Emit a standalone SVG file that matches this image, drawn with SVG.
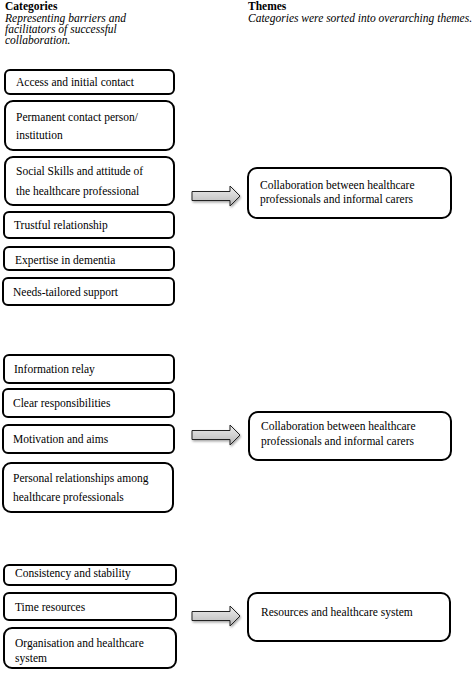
<svg xmlns="http://www.w3.org/2000/svg" width="472" height="678" viewBox="0 0 472 678">
<style>
text{font-family:"Liberation Serif","Times New Roman",serif;font-size:11.5px;fill:#000}
.h{font-weight:bold}
.i{font-style:italic}
.box{fill:#fff;stroke:#000;stroke-width:2}
.arr{fill:url(#g);stroke:#222;stroke-width:1;filter:url(#sh)}
</style>
<defs>
<linearGradient id="g" x1="0" y1="0" x2="0" y2="1">
<stop offset="0" stop-color="#eeeeee"/>
<stop offset="1" stop-color="#b8b8b8"/>
</linearGradient>
<filter id="sh" x="-20%" y="-20%" width="140%" height="160%">
<feDropShadow dx="1" dy="1.5" stdDeviation="1" flood-color="#000" flood-opacity="0.35"/>
</filter>
</defs>
<g id="headers">
<text class="h" x="5" y="10">Categories</text>
<text class="i" x="5" y="22">Representing barriers and</text>
<text class="i" x="5" y="33">facilitators of successful</text>
<text class="i" x="5" y="44">collaboration.</text>
<text class="h" x="248" y="10">Themes</text>
<text class="i" x="248" y="22">Categories were sorted into overarching themes.</text>
</g>
<g id="c1"><rect class="box" x="5" y="70" width="169" height="24" rx="5"/><text x="16" y="86">Access and initial contact</text></g>
<g id="c2"><rect class="box" x="5" y="101" width="169" height="49" rx="8"/><text x="16" y="121">Permanent contact person/</text><text x="16" y="139">institution</text></g>
<g id="c3"><rect class="box" x="5" y="157" width="169" height="48" rx="8"/><text x="16" y="175">Social Skills and attitude of</text><text x="16" y="195">the healthcare professional</text></g>
<g id="c4"><rect class="box" x="4" y="212" width="170" height="26" rx="5"/><text x="14" y="229">Trustful relationship</text></g>
<g id="c5"><rect class="box" x="4" y="247" width="170" height="23" rx="5"/><text x="15" y="264">Expertise in dementia</text></g>
<g id="c6"><rect class="box" x="3" y="278" width="171" height="27" rx="5"/><text x="13" y="296">Needs-tailored support</text></g>
<g id="t1"><rect class="box" x="248" y="168" width="203" height="50" rx="9"/><text x="260" y="189">Collaboration between healthcare</text><text x="260" y="203">professionals and informal carers</text></g>
<g id="c7"><rect class="box" x="4" y="355" width="170" height="28" rx="5"/><text x="14" y="373">Information relay</text></g>
<g id="c8"><rect class="box" x="3" y="389" width="171" height="28" rx="5"/><text x="13" y="407">Clear responsibilities</text></g>
<g id="c9"><rect class="box" x="3" y="425" width="171" height="28" rx="5"/><text x="13" y="443">Motivation and aims</text></g>
<g id="c10"><rect class="box" x="3" y="463" width="170" height="49" rx="8"/><text x="13" y="482">Personal relationships among</text><text x="13" y="501">healthcare professionals</text></g>
<g id="t2"><rect class="box" x="249" y="412" width="202" height="48" rx="9"/><text x="261" y="430">Collaboration between healthcare</text><text x="261" y="445">professionals and informal carers</text></g>
<g id="c11"><rect class="box" x="4" y="565" width="172" height="20" rx="5"/><text x="15" y="577">Consistency and stability</text></g>
<g id="c12"><rect class="box" x="4" y="593" width="172" height="27" rx="5"/><text x="15" y="611">Time resources</text></g>
<g id="c13"><rect class="box" x="4" y="628" width="172" height="40" rx="8"/><text x="15" y="647">Organisation and healthcare</text><text x="15" y="662">system</text></g>
<g id="t3"><rect class="box" x="248" y="593" width="202" height="48" rx="9"/><text x="261" y="616">Resources and healthcare system</text></g>
<g id="connectors">
<path class="arr" d="M192,191.5 H230 V186 L240,196 L230,206 V200.5 H192 Z"/>
<path class="arr" d="M192,430.5 H230 V425 L240,435 L230,445 V439.5 H192 Z"/>
<path class="arr" d="M192,611.5 H230 V606 L240,616 L230,626 V620.5 H192 Z"/>
</g>
</svg>
